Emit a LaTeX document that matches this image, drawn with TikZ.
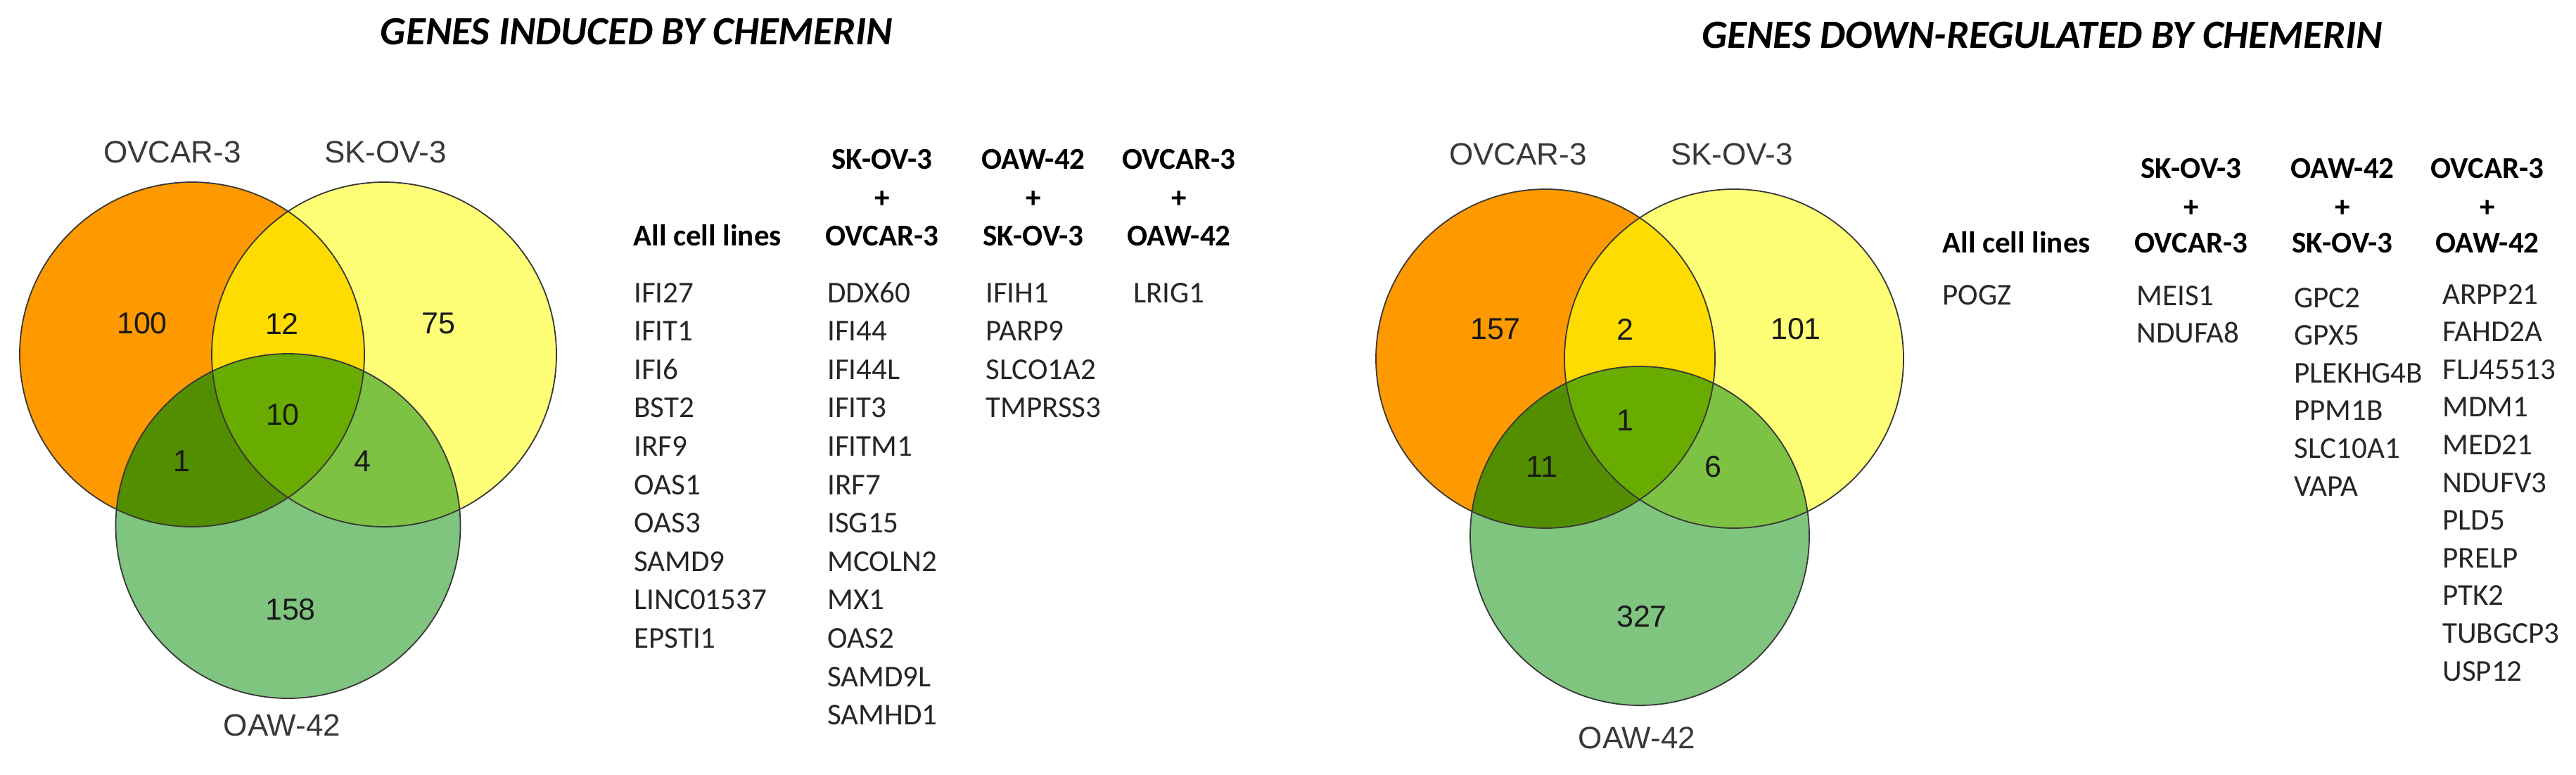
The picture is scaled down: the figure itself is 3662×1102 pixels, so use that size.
\documentclass[tikz,border=0pt]{standalone}
\usepackage{fontspec}
\setmainfont{Carlito}
\newfontfamily\arialf{Liberation Sans}
\definecolor{vorange}{HTML}{FF9900}
\definecolor{vyellow}{HTML}{FFFF77}
\definecolor{vgold}{HTML}{FFDC00}
\definecolor{vgreen}{HTML}{7FC47F}
\definecolor{vog}{HTML}{528E00}
\definecolor{vyg}{HTML}{7DC243}
\definecolor{vogy}{HTML}{69AC00}
\newcommand{\vennfill}[4]{%
  \fill[vorange] (#1) circle[radius=#4];
  \fill[vyellow] (#2) circle[radius=#4];
  \begin{scope}\clip (#1) circle[radius=#4]; \fill[vgold] (#2) circle[radius=#4];\end{scope}
  \fill[vgreen] (#3) circle[radius=#4];
  \begin{scope}\clip (#3) circle[radius=#4];
    \fill[vog] (#1) circle[radius=#4];
    \fill[vyg] (#2) circle[radius=#4];
    \clip (#1) circle[radius=#4];
    \fill[vogy] (#2) circle[radius=#4];
  \end{scope}
  \draw[vline] (#1) circle[radius=#4] (#2) circle[radius=#4] (#3) circle[radius=#4];}
\begin{document}
\begin{tikzpicture}[x=0.5pt,y=-0.5pt,
  vlabel/.style={font=\arialf\fontsize{22}{26}\selectfont, text=black!78, inner sep=0pt},
  vnum/.style={font=\arialf\fontsize{21.5}{26}\selectfont, text=black!90, inner sep=0pt},
  gene/.style={font=\fontsize{21.5}{26}\selectfont, text=black!85, inner sep=0pt, anchor=base west},
  head/.style={font=\bfseries\fontsize{21.5}{26}\selectfont, text=black, inner sep=0pt, anchor=base},
  titlestyle/.style={font=\bfseries\itshape\fontsize{28.5}{34}\selectfont, inner sep=0pt, anchor=base},
  vline/.style={draw=black!78, line width=0.9pt}]
\useasboundingbox (0,0) rectangle (3662,1102);
% titles
\node[titlestyle] (t1) at (905,64) {GENES INDUCED BY CHEMERIN};
\node[titlestyle] (t2) at (2903,69) {GENES DOWN-REGULATED BY CHEMERIN};
% left venn
\coordinate (LO) at (273,504);
\coordinate (LY) at (546,504);
\coordinate (LG) at (409.5,748);
\vennfill{LO}{LY}{LG}{122.5pt}
\node[vlabel] (lovcar) at (245,216) {OVCAR-3};
\node[vlabel] (lskov) at (548,216) {SK-OV-3};
\node[vlabel] (loaw) at (401,1031) {OAW-42};
\node[vnum] (ln100) at (202,460) {100};
\node[vnum] (ln12) at (401,460) {12};
\node[vnum] (ln75) at (623,460) {75};
\node[vnum] (ln10) at (402,590) {10};
\node[vnum] (ln1) at (258,656) {1};
\node[vnum] (ln4) at (515,656) {4};
\node[vnum] (ln158) at (413,867) {158};
% right venn
\coordinate (RO) at (2197,510);
\coordinate (RY) at (2465,510);
\coordinate (RG) at (2331,762);
\vennfill{RO}{RY}{RG}{120.5pt}
\node[vlabel] (rovcar) at (2158,219) {OVCAR-3};
\node[vlabel] (rskov) at (2462,219) {SK-OV-3};
\node[vlabel] (roaw) at (2327,1049) {OAW-42};
\node[vnum] (rn157) at (2126,468) {157};
\node[vnum] (rn2) at (2310,468) {2};
\node[vnum] (rn101) at (2553,468) {101};
\node[vnum] (rn1c) at (2310,598) {1};
\node[vnum] (rn11) at (2192,664) {11};
\node[vnum] (rn6) at (2435,664) {6};
\node[vnum] (rn327) at (2334,877) {327};
% left lists
\node[head,anchor=base west] (lh1) at (900,349) {All cell lines};
\node[head] (lh2a) at (1254,240) {SK-OV-3};
\node[head] (lh2b) at (1254,295) {+};
\node[head] (lh2c) at (1254,349) {OVCAR-3};
\node[head] (lh3a) at (1469,240) {OAW-42};
\node[head] (lh3b) at (1469,295) {+};
\node[head] (lh3c) at (1469,349) {SK-OV-3};
\node[head] (lh4a) at (1676,240) {OVCAR-3};
\node[head] (lh4b) at (1676,295) {+};
\node[head] (lh4c) at (1676,349) {OAW-42};
\foreach \g [count=\i from 0] in {IFI27,IFIT1,IFI6,BST2,IRF9,OAS1,OAS3,SAMD9,LINC01537,EPSTI1}
  \node[gene] (la\i) at (901,{430+54.6*\i}) {\g};
\foreach \g [count=\i from 0] in {DDX60,IFI44,IFI44L,IFIT3,IFITM1,IRF7,ISG15,MCOLN2,MX1,OAS2,SAMD9L,SAMHD1}
  \node[gene] (lb\i) at (1176,{430+54.6*\i}) {\g};
\foreach \g [count=\i from 0] in {IFIH1,PARP9,SLCO1A2,TMPRSS3}
  \node[gene] (lc\i) at (1401,{430+54.6*\i}) {\g};
\node[gene] (ld0) at (1611,430) {LRIG1};
% right lists
\node[head,anchor=base west] (rh1) at (2761,359) {All cell lines};
\node[head] (rh2a) at (3115,253) {SK-OV-3};
\node[head] (rh2b) at (3115,308) {+};
\node[head] (rh2c) at (3115,359) {OVCAR-3};
\node[head] (rh3a) at (3330,253) {OAW-42};
\node[head] (rh3b) at (3330,308) {+};
\node[head] (rh3c) at (3330,359) {SK-OV-3};
\node[head] (rh4a) at (3536,253) {OVCAR-3};
\node[head] (rh4b) at (3536,308) {+};
\node[head] (rh4c) at (3536,359) {OAW-42};
\node[gene] (ra0) at (2761,433) {POGZ};
\foreach \g [count=\i from 0] in {MEIS1,NDUFA8}
  \node[gene] (rb\i) at (3037,{434+53.6*\i}) {\g};
\foreach \g [count=\i from 0] in {GPC2,GPX5,PLEKHG4B,PPM1B,SLC10A1,VAPA}
  \node[gene] (rc\i) at (3261,{437+53.6*\i}) {\g};
\foreach \g [count=\i from 0] in {ARPP21,FAHD2A,FLJ45513,MDM1,MED21,NDUFV3,PLD5,PRELP,PTK2,TUBGCP3,USP12}
  \node[gene] (rd\i) at (3472,{432+53.6*\i}) {\g};
\end{tikzpicture}
\end{document}
